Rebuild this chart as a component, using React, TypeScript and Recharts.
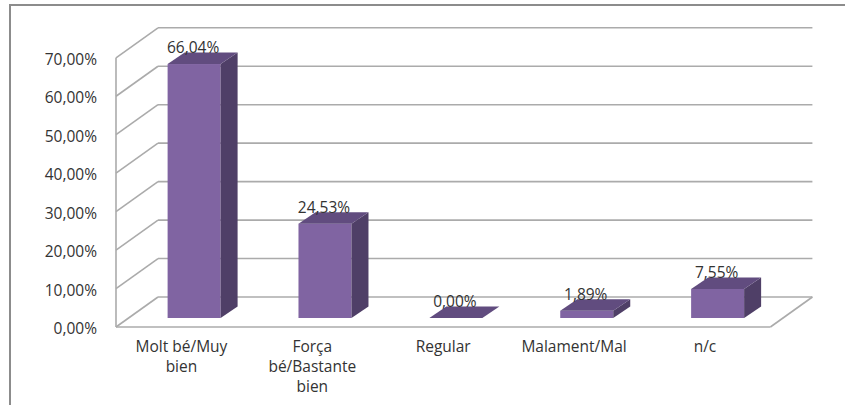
import React from 'react';
import { BarChart, Bar, XAxis, YAxis, CartesianGrid, LabelList, ReferenceArea } from 'recharts';

const categories = ['Molt bé/Muy bien', 'Força bé/Bastante bien', 'Regular', 'Malament/Mal', 'n/c'];
const tickLines = [['Molt bé/Muy', 'bien'], ['Força', 'bé/Bastante', 'bien'], ['Regular'], ['Malament/Mal'], ['n/c']];
const values = [66.04, 24.53, 0, 1.89, 7.55];
const yTicks = [0, 10, 20, 30, 40, 50, 60, 70];

const data = categories.map((name, i) => ({ name, value: values[i] }));

// 3d depth of the floor, bars sit 30% in from the front edge
const FRONT_X = -12.6;
const FRONT_Y = 9;
const BACK_X = 29.4;
const BACK_Y = -21;
const BAR_DX = 17;
const BAR_DY = 11.5;

const FONT = '"Open Sans", sans-serif';
const GRID = '#ABABAB';

const pct = (v: number) => v.toFixed(2).replace('.', ',') + '%';

const gridLine = (p: any) => {
  const { x1, x2, y1 } = p;
  return (
    <g key={p.key}>
      <line x1={x1 + FRONT_X} y1={y1 + FRONT_Y} x2={x1 + BACK_X} y2={y1 + BACK_Y} stroke={GRID} strokeWidth={1.6} />
      <line x1={x1 + BACK_X} y1={y1 + BACK_Y} x2={x2 + BACK_X} y2={y1 + BACK_Y} stroke={GRID} strokeWidth={1.6} />
    </g>
  );
};

const Walls = (p: any) => {
  const { x, y, width, height } = p;
  const bottom = y + height;
  return (
    <g>
      <line x1={x + FRONT_X} y1={y + FRONT_Y} x2={x + FRONT_X} y2={bottom + FRONT_Y} stroke={GRID} strokeWidth={1.6} />
      <line x1={x + FRONT_X} y1={bottom + FRONT_Y} x2={x + width + FRONT_X} y2={bottom + FRONT_Y} stroke={GRID} strokeWidth={1.6} />
      <line x1={x + width + FRONT_X} y1={bottom + FRONT_Y} x2={x + width + BACK_X} y2={bottom + BACK_Y} stroke={GRID} strokeWidth={1.6} />
    </g>
  );
};

const Bar3D = (p: any) => {
  const { x, y, width, height } = p;
  const b = y + height;
  return (
    <g>
      <rect x={x} y={y} width={width} height={height} fill="#8064A2" />
      <polygon
        points={`${x + width},${y} ${x + width + BAR_DX},${y - BAR_DY} ${x + width + BAR_DX},${b - BAR_DY} ${x + width},${b}`}
        fill="#4F3F67"
      />
      <polygon
        points={`${x},${y} ${x + BAR_DX},${y - BAR_DY} ${x + width + BAR_DX},${y - BAR_DY} ${x + width},${y}`}
        fill="#614C7F"
      />
    </g>
  );
};

const ValueLabel = (p: any) => {
  const { x, y, width, value } = p;
  return (
    <text x={x + width / 2 - 1} y={y - 11} textAnchor="middle" fontFamily={FONT} fontSize={15.5} fill="#333">
      {pct(value)}
    </text>
  );
};

const YTick = (p: any) => {
  const { x, y, payload } = p;
  return (
    <text x={x - 31.6} y={y + 16} textAnchor="end" fontFamily={FONT} fontSize={15.5} fill="#333">
      {pct(payload.value)}
    </text>
  );
};

const XTick = (p: any) => {
  const { x, y, payload } = p;
  const lines = tickLines[payload.index] || [payload.value];
  return (
    <text x={x + FRONT_X} y={y + 34} textAnchor="middle" fontFamily={FONT} fontSize={15.5} fill="#333">
      {lines.map((l, i) => (
        <tspan key={i} x={x + FRONT_X} dy={i === 0 ? 0 : 20}>
          {l}
        </tspan>
      ))}
    </text>
  );
};

export default function App() {
  return (
    <div style={{ position: 'absolute', left: 0, top: 0, width: 845, height: 405, background: '#fff', overflow: 'hidden' }}>
      <div
        style={{
          position: 'absolute',
          left: 9,
          top: 4,
          right: -10,
          bottom: -10,
          borderTop: '2px solid #8c8c8c',
          borderLeft: '2px solid #8c8c8c',
        }}
      />
      <BarChart
        width={845}
        height={405}
        data={data}
        margin={{ top: 48.8, right: 62, left: 0.6, bottom: 0 }}
        style={{ position: 'absolute', left: 0, top: 0 }}
      >
        <CartesianGrid vertical={false} horizontal={gridLine} />
        <ReferenceArea y1={0} y2={70} shape={Walls} />
        <XAxis dataKey="name" axisLine={false} tickLine={false} tickSize={0} tickMargin={0} height={87} interval={0} tick={<XTick />} />
        <YAxis
          domain={[0, 70]}
          ticks={yTicks}
          axisLine={false}
          tickLine={false}
          tickSize={0}
          tickMargin={0}
          width={128}
          tick={<YTick />}
        />
        <Bar dataKey="value" barSize={53} shape={Bar3D} isAnimationActive={false}>
          <LabelList dataKey="value" content={<ValueLabel />} />
        </Bar>
      </BarChart>
    </div>
  );
}
